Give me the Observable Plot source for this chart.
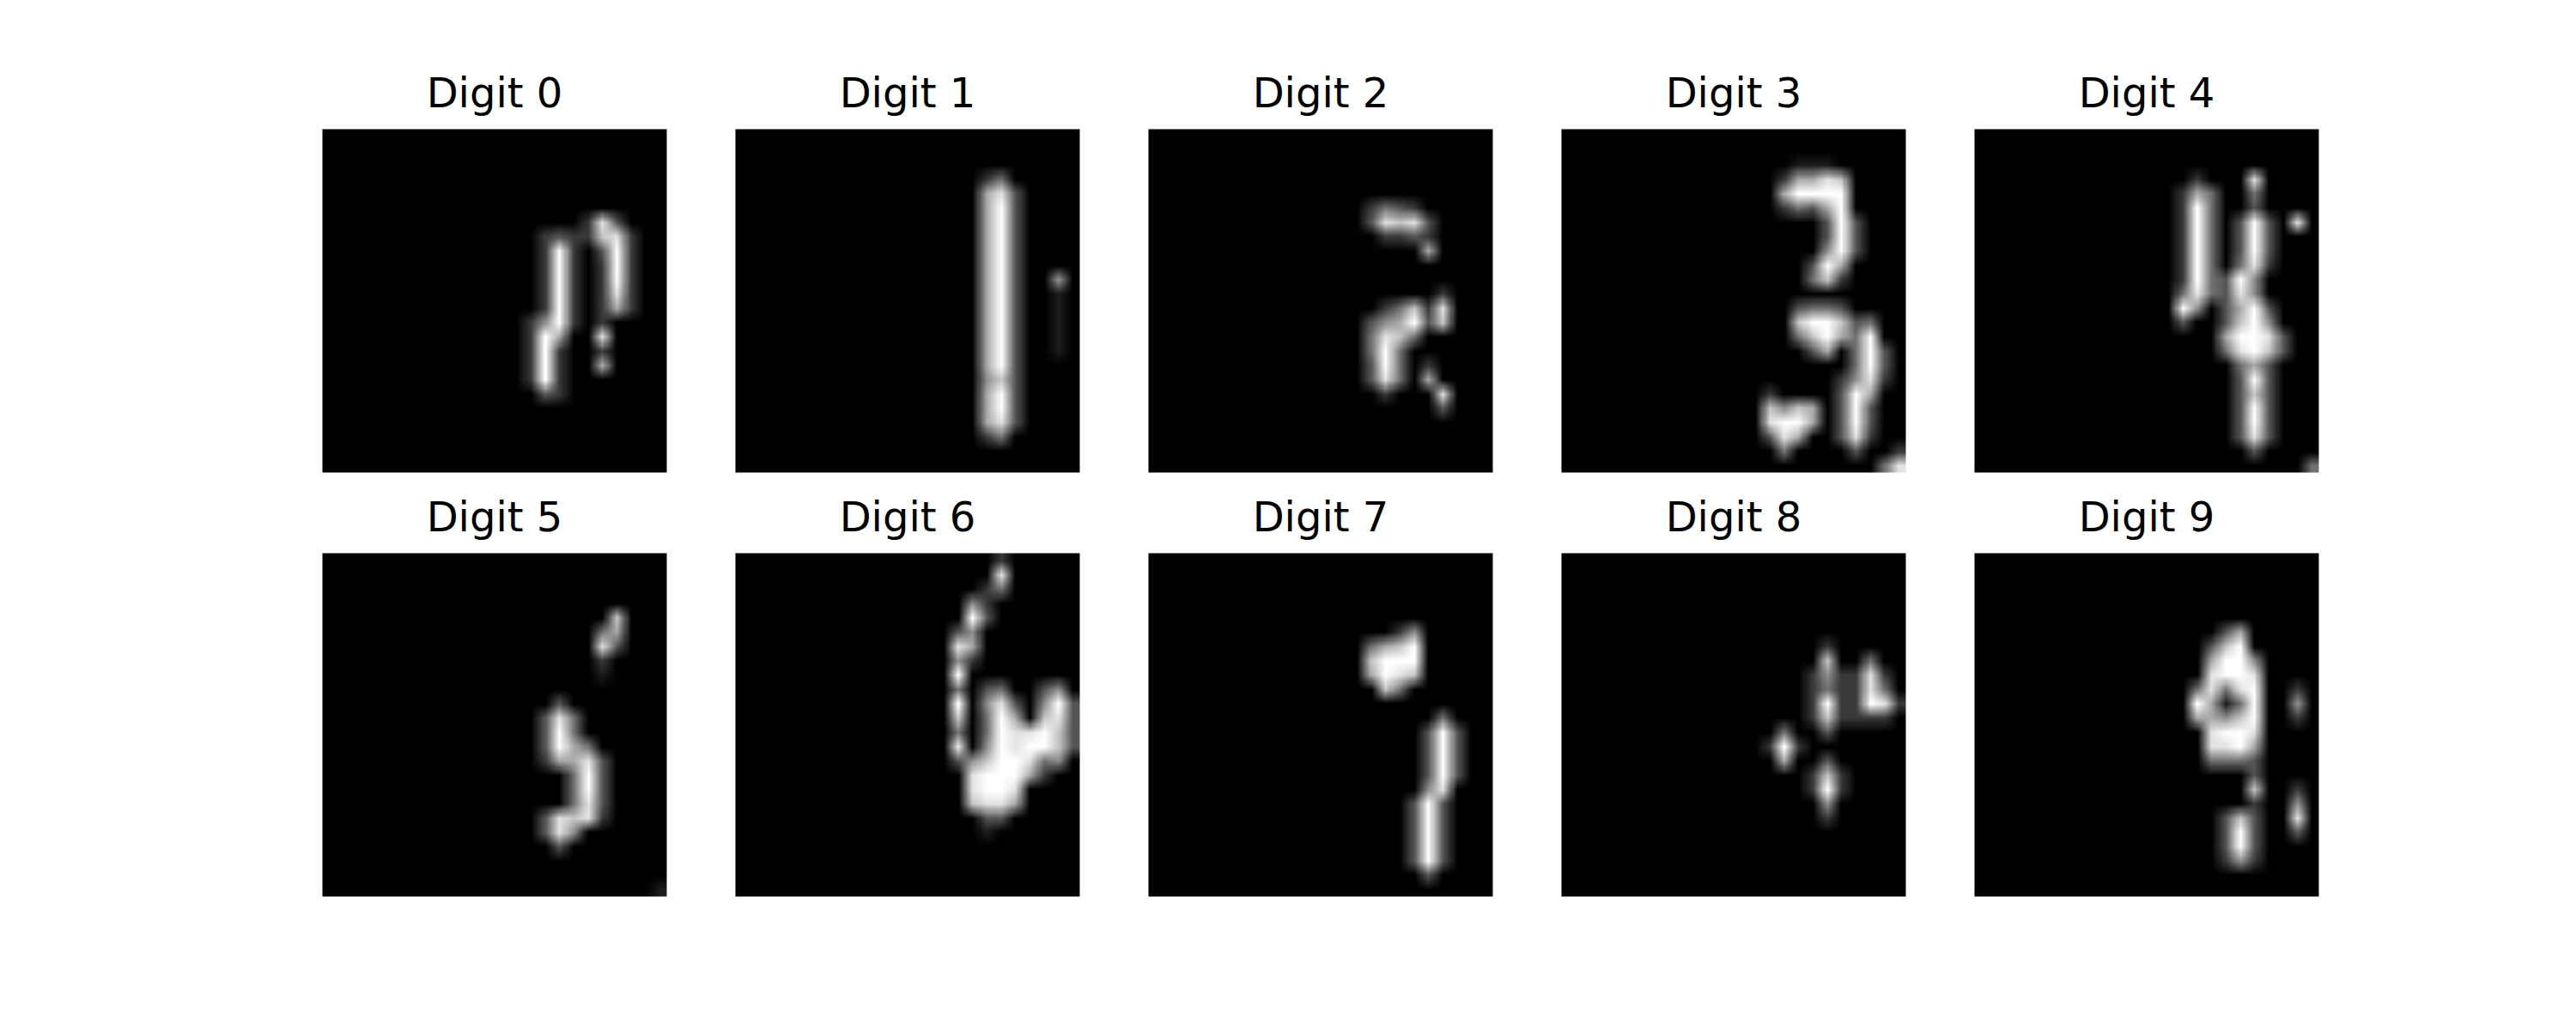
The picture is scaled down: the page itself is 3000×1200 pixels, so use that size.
<!DOCTYPE html>
<html>
<head>
<meta charset="utf-8">
<script src="https://cdn.jsdelivr.net/npm/d3@7"></script>
<script src="https://cdn.jsdelivr.net/npm/@observablehq/plot@0.6"></script>
<style>
  html, body { margin: 0; padding: 0; background: #fff; }
  svg { display: block; }
</style>
</head>
<body>
<div id="chart"></div>
<script>
// Titles of the ten panels
const digitLabels = ["Digit 0","Digit 1","Digit 2","Digit 3","Digit 4","Digit 5","Digit 6","Digit 7","Digit 8","Digit 9"];

// Each panel: 24 rows; each row = 14 empty columns + columns 14..23 (intensity 0-9, "." = 0)
const P = "..............";
const E = "..........";
const digit0 = [E,E,E,E,E,E,"....283...",".2322782..",".292.392..",".292.292..",".292.292..",".292.282..",".292.262..","2592.2....","296..8....","292..2....","292..6....","292.......",".32.......",E,E,E,E,E];
const digit1 = [E,E,E,"...24.....","...683....","...693....","...693....","...693....","...693....","...693....","...693..5.","...693..1.","...693..1.","...693..1.","...693..1.","...693..1.","...693....","...573....","...693....","...693....","...683....","...24.....",E,E];
const digit2 = [E,E,E,E,E,".2432.....",".38783....","..2232....",".....6....",E,E,"......2...","..24728...",".356937...",".4874.....",".494......",".394.2....",".384.6....","..2...8...","......3...",E,E,E,E];
const digit3 = [E,E,"..111.....",".26687....",".69999....",".24369....","....393...","....393...","....593...","...396....","...472....",E,"..3443....","..799734..","..479649..","...36.493.","......493.",".....2582.","2....396..","7576.393..","8996.393..","386..382..",".4....3..2","........48"];
const digit4 = [E,E,E,".2...8....","264..4....","294..3....","294.393.8.","294.393...","294.393...","294.482...","294395....","484385....","95.3693...","3..3795...","...69983..","...48973..","....463...","....393...","....373...","....393...","....393...","....383...",".....3....",".........4"];
const digit5 = [E,E,E,E,"......7...",".....46...",".....83...",".....2....",".....1....",E,"..3.......",".384......",".394......",".3964.....",".26683....","...493....","...493....","...483....",".38782....",".385......","..3.......",E,E,".........1"];
const digit6 = ["....2.....","....8.....","...24.....","..52......","..93......",".35.......",".86.......",".52.......",".9........",".4.34..35.",".9.583.593",".7.496.783",".4.4988973",".8.5989973",".35799845.","..899962..","..8998....","..7886....","...33.....","...1......",E,E,E,E];
const digit7 = [E,E,E,E,E,"...25.....",".4679.....",".7999.....",".6987.....","..74......",E,"......4...",".....393..",".....393..",".....393..",".....393..",".....58...","....393...","....393...","....393...","....393...","....393...",".....3....",E];
const digit8 = [E,E,E,E,E,E,"....2.....","....7..4..","...252282.","...242284.","...2922982","...272222.",".4..3.....","292.......",".6..3.....","...272....","...292....","....5.....","....2.....",E,E,E,E,E];
const digit9 = [E,E,E,E,E,"...36.....","..379.....","..6995....","..8998....",".48489..2.",".96149..5.",".66579..2.","..8998....","..8896....","..4443....",".....3....",".....7..2.",".....2..5.","...373..8.","...393..3.","...393....","...252....",E,E];

const digits = [digit0, digit1, digit2, digit3, digit4, digit5, digit6, digit7, digit8, digit9];

const pixels = [];
digits.forEach((rows, d) => {
  rows.forEach((row, r) => {
    const full = P + row;
    for (let c = 0; c < 24; ++c) {
      const ch = full[c];
      pixels.push({fx: d % 5, fy: Math.floor(d / 5), x: c + 0.5, y: r + 0.5, v: ch === "." ? 0 : +ch});
    }
  });
});
const titles = digitLabels.map((label, d) => ({fx: d % 5, fy: Math.floor(d / 5), label}));

const chart = Plot.plot({
  width: 3000,
  height: 1200,
  marginLeft: 375,
  marginRight: 300,
  marginTop: 149,
  marginBottom: 155,
  style: {fontFamily: "DejaVu Sans", background: "white"},
  fx: {axis: null, domain: [0, 1, 2, 3, 4], paddingInner: 80 / 481, paddingOuter: 0},
  fy: {axis: null, domain: [0, 1], paddingInner: 94 / 495, paddingOuter: 0},
  x: {axis: null, domain: [0, 24]},
  y: {axis: null, domain: [0, 24], reverse: true},
  color: {type: "linear", domain: [0, 9], range: ["#000000", "#ffffff"]},
  marks: [
    Plot.raster(pixels, {
      x: "x", y: "y", fill: "v", fx: "fx", fy: "fy",
      x1: 0, x2: 24, y1: 0, y2: 24, width: 24, height: 24,
      interpolate: "nearest", imageRendering: "auto"
    }),
    Plot.text(titles, {
      fx: "fx", fy: "fy", text: "label",
      frameAnchor: "top", lineAnchor: "bottom", dy: -26,
      fontSize: 48, fill: "black"
    })
  ]
});
document.getElementById("chart").appendChild(chart);
</script>
</body>
</html>
